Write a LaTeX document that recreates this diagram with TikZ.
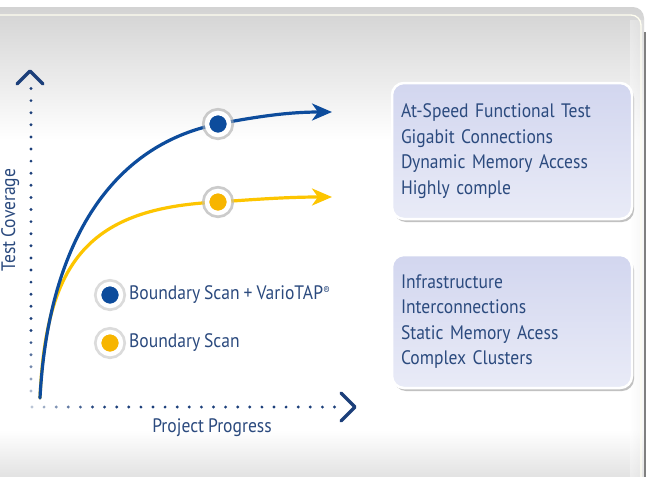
\documentclass[tikz,border=0pt]{standalone}
\usepackage{fontspec}
\setmainfont[FakeStretch=0.9, WordSpace=0.85]{PT Sans}
\usetikzlibrary{arrows.meta,shadows}
\definecolor{txt}{HTML}{2B4A7E}
\definecolor{axisblue}{HTML}{1C3F7A}
\definecolor{cblue}{HTML}{0D4C9C}
\definecolor{cyellow}{HTML}{FDC500}
\definecolor{dyellow}{HTML}{F7B500}
\definecolor{panelgray}{HTML}{D3D3D3}
\definecolor{botgray}{HTML}{E2E2E2}
\definecolor{boxtop}{HTML}{D2D6EF}
\definecolor{boxbot}{HTML}{E9EBF7}
\tikzset{
  lbl/.style={text=txt, font=\fontsize{19.5}{25.5}\selectfont, inner sep=0pt},
  infobox/.style={rounded corners=12pt, top color=boxtop, bottom color=boxbot,
    draw=white, line width=2.5pt, minimum width=240pt, text width=222pt,
    align=left, inner xsep=9pt, text=txt, font=\fontsize{19.5}{25.5}\selectfont,
    drop shadow={shadow xshift=2pt, shadow yshift=-3pt, opacity=0.4, fill=black!60}},
  dot/.style={circle, inner sep=0pt, minimum size=22pt, draw=white, line width=4.5pt,
    preaction={draw=black!25, draw opacity=0.55, line width=10pt}},
  curve/.style={line width=3.2pt, line cap=round},
  chev/.style={draw=axisblue, line width=3.4pt, line cap=round, line join=round}
}
\begin{document}
\begin{tikzpicture}[x=1pt,y=-1pt]
\useasboundingbox (0,0) rectangle (646,477);
\fill[white] (0,0) rectangle (646,477);
% panel background
\begin{scope}
  \clip (0,7) -- (633,7) arc[start angle=-90,end angle=0,radius=11] -- (645,477) -- (0,477) -- cycle;
  \shade[top color=panelgray, bottom color=white] (0,7) rectangle (646,140);
  \fill[white] (0,139) rectangle (646,431);
  \shade[top color=white, bottom color=botgray] (0,430) rectangle (646,477);
  \shade[left color=white, right color=black!10, opacity=0.35] (630,20) rectangle (645,477);
\end{scope}
\draw[color=yellow!6!white, line width=1.3pt] (0,15) -- (631,15) arc[start angle=-90,end angle=0,radius=10] -- (641,477);
\draw[color=black!50, line width=2pt] (645,32) -- (645,477);
% axes
\coordinate (origin) at (31,407);
\coordinate (ytip) at (30,71);
\coordinate (xtip) at (355,407);
\foreach \i in {0,...,25} {
  \pgfmathsetmacro{\yy}{391-\i*12.1}
  \pgfmathsetmacro{\op}{min(1,0.35+\i*0.13)}
  \fill[axisblue, opacity=\op] (31,\yy) circle (1.6pt);
}
\foreach \i in {0,...,25} {
  \pgfmathsetmacro{\xx}{32+\i*12.1}
  \pgfmathsetmacro{\op}{min(1,0.3+\i*0.13)}
  \fill[axisblue, opacity=\op] (\xx,407) circle (1.6pt);
}
\draw[chev] ([shift={(-13,13)}]ytip) -- (ytip) -- ([shift={(13,13)}]ytip);
\draw[chev] ([shift={(-14,-14)}]xtip) -- (xtip) -- ([shift={(-14,14)}]xtip);
\node[lbl, rotate=90, anchor=north] (ylab) at (1,220) {Test Coverage};
\node[lbl] (xlab) at (212,428) {Project Progress};
% curves
\coordinate (start) at (40,398);
\coordinate (tipb) at (332,112);
\coordinate (tipy) at (332,197);
\node[dot, fill=cblue] (pb) at (218,124) {};
\node[dot, fill=dyellow] (py) at (218,202) {};
\draw[curve, cyellow, -{Stealth[length=20pt,width=17pt,inset=6pt]}]
  (start) .. controls (46,260) and (90,208) .. (py.center)
  .. controls (260,199) and (290,197) .. (tipy);
\draw[curve, cblue, -{Stealth[length=20pt,width=17pt,inset=6pt]}]
  (start) .. controls (48,248) and (108,146) .. (pb.center)
  .. controls (260,116) and (290,112) .. (tipb);
\node[dot, fill=cblue] at (pb) {};
\node[dot, fill=dyellow] at (py) {};
% legend
\node[dot, fill=cblue] (lb) at (110,295) {};
\node[dot, fill=dyellow] (ly) at (110,343) {};
\node[lbl, anchor=west] (tb) at (129,295) {Boundary Scan + VarioTAP\raisebox{5.5pt}{\fontsize{11}{11}\selectfont ®}};
\node[lbl, anchor=west] (ty) at (129,343) {Boundary Scan};
% boxes
\node[infobox, minimum height=136pt] (box1) at (512,151) {At-Speed Functional Test\\Gigabit Connections\\Dynamic Memory Access\\Highly comple};
\node[infobox, minimum height=133pt] (box2) at (512,321.5) {Infrastructure\\Interconnections\\Static Memory Acess\\Complex Clusters};
\end{tikzpicture}
\end{document}
